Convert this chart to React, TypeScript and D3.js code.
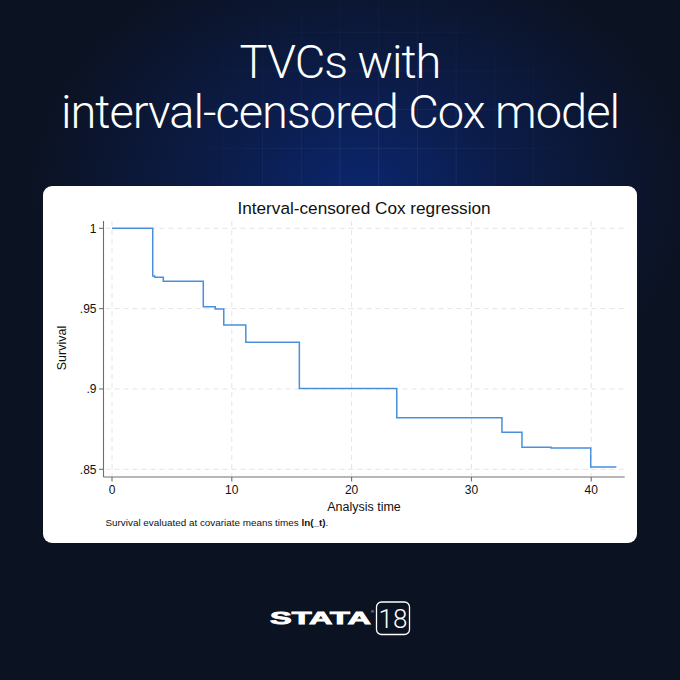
import * as d3 from 'd3'

// survival step function
const times = [0, 3.4, 3.56, 4.28, 7.62, 8.62, 9.33, 11.17, 15.64, 23.77, 32.55, 34.22, 36.65, 39.96, 42.1]
const survival = [1, 0.9703, 0.9695, 0.9671, 0.9511, 0.9497, 0.9398, 0.9291, 0.9003, 0.8821, 0.8731, 0.8637, 0.8632, 0.8514, 0.8514]
const xTicks = [0, 10, 20, 30, 40]
const yTicks = [0.85, 0.9, 0.95, 1]
const yTickLabels = ['.85', '.9', '.95', '1']

const W = 680
const H = 680
const font = '"Liberation Sans", Arial, sans-serif'

export default function App() {
  const x = d3.scaleLinear().domain([0, 40]).range([112, 591.2])
  const y = d3.scaleLinear().domain([0.85, 1]).range([469.3, 228.3])
  const axisLeft = 103.5
  const axisRight = 624.7
  const axisBottom = 477
  const axisTop = 221

  const points = times.map((t, i) => [t, survival[i]] as [number, number])
  const line = d3
    .line<[number, number]>()
    .x(d => x(d[0]))
    .y(d => y(d[1]))
    .curve(d3.curveStepAfter)

  // faint background grid
  const gridStep = 38.7
  const gx = d3.range(-9, 10).map(k => 340 + k * gridStep)
  const gy = d3.range(-4, 5).map(k => 148.3 + k * gridStep)

  return (
    <svg width={W} height={H} style={{position: 'absolute', left: 0, top: 0}}>
      <defs>
        <radialGradient id="glow" cx="360" cy="190" r="330" gradientUnits="userSpaceOnUse" gradientTransform="translate(360 190) scale(1 0.75) translate(-360 -190)">
          <stop offset="0" stopColor="#0b266e" />
          <stop offset="0.45" stopColor="#0c1c48" />
          <stop offset="1" stopColor="#0b1222" />
        </radialGradient>
        <radialGradient id="gridMask" cx="380" cy="170" r="230" gradientUnits="userSpaceOnUse">
          <stop offset="0" stopColor="#fff" stopOpacity="1" />
          <stop offset="1" stopColor="#fff" stopOpacity="0" />
        </radialGradient>
        <mask id="gm">
          <rect width={W} height={H} fill="url(#gridMask)" />
        </mask>
      </defs>
      <rect width={W} height={H} fill="#0b111f" />
      <rect width={W} height={H} fill="url(#glow)" />
      <g mask="url(#gm)" stroke="#ffffff" strokeOpacity={0.07} strokeWidth={1}>
        {gx.map(v => (
          <line key={'gx' + v} x1={v} x2={v} y1={0} y2={186} />
        ))}
        {gy.map(v => (
          <line key={'gy' + v} x1={0} x2={W} y1={v} y2={v} />
        ))}
      </g>

      <g fill="#ffffff" fontFamily='Roboto, "Noto Sans", sans-serif' fontWeight={300} textAnchor="middle" letterSpacing={-1}>
        <text x={340} y={78} fontSize={47}>
          TVCs with
        </text>
        <text x={340} y={128} fontSize={47}>
          interval-censored Cox model
        </text>
      </g>

      <rect x={43} y={186} width={594} height={357} rx={9} fill="#ffffff" />

      <g fontFamily={font} fill="#111">
        <text x={364} y={213.5} fontSize={17.2} textAnchor="middle">
          Interval-censored Cox regression
        </text>

        {/* grid */}
        <g stroke="#e4e4e4" strokeWidth={1} strokeDasharray="5,4" fill="none">
          {yTicks.map(t => (
            <line key={'hy' + t} x1={axisLeft + 2} x2={axisRight} y1={y(t)} y2={y(t)} />
          ))}
          {xTicks.map(t => (
            <line key={'vx' + t} x1={x(t)} x2={x(t)} y1={axisTop} y2={axisBottom - 1} />
          ))}
        </g>

        {/* axes */}
        <g stroke="#6e6e6e" strokeWidth={1.1}>
          <line x1={axisLeft} x2={axisLeft} y1={axisTop} y2={axisBottom} />
          <line x1={axisLeft} x2={axisRight} y1={axisBottom} y2={axisBottom} />
          {yTicks.map(t => (
            <line key={'ty' + t} x1={axisLeft - 4.5} x2={axisLeft} y1={y(t)} y2={y(t)} />
          ))}
          {xTicks.map(t => (
            <line key={'tx' + t} x1={x(t)} x2={x(t)} y1={axisBottom} y2={axisBottom + 4.5} />
          ))}
        </g>

        {yTicks.map((t, i) => (
          <text key={'ly' + t} x={96.5} y={y(t)} dy="0.35em" fontSize={12} textAnchor="end">
            {yTickLabels[i]}
          </text>
        ))}
        {xTicks.map(t => (
          <text key={'lx' + t} x={x(t)} y={493.5} fontSize={12} textAnchor="middle">
            {t}
          </text>
        ))}

        <text x={364} y={510.5} fontSize={12.5} textAnchor="middle">
          Analysis time
        </text>
        <text transform="translate(65.5,348) rotate(-90)" fontSize={12.5} textAnchor="middle">
          Survival
        </text>
        <text x={105.5} y={525.5} fontSize={9.9}>
          Survival evaluated at covariate means times <tspan fontWeight="bold">ln(_t)</tspan>.
        </text>

        <path d={line(points) ?? ''} fill="none" stroke="#4a8fdb" strokeWidth={1.5} />
      </g>

      {/* Stata 18 logo */}
      <g fill="#ffffff">
        <text x={270} y={624} fontFamily='"Liberation Sans", Arial, sans-serif' fontWeight={900} fontSize={17} stroke="#ffffff" strokeWidth={0.8} textLength={101} lengthAdjust="spacingAndGlyphs">
          STATA
        </text>
        <text x={371} y={613} fontFamily={font} fontSize={4}>
          ®
        </text>
        <rect x={376.5} y={602} width={33} height={32.5} rx={5} fill="none" stroke="#ffffff" strokeWidth={1.3} />
        <text x={393} y={627.5} fontFamily='Roboto, "Noto Sans", sans-serif' fontWeight={300} fontSize={26} textAnchor="middle">
          18
        </text>
      </g>
    </svg>
  )
}
